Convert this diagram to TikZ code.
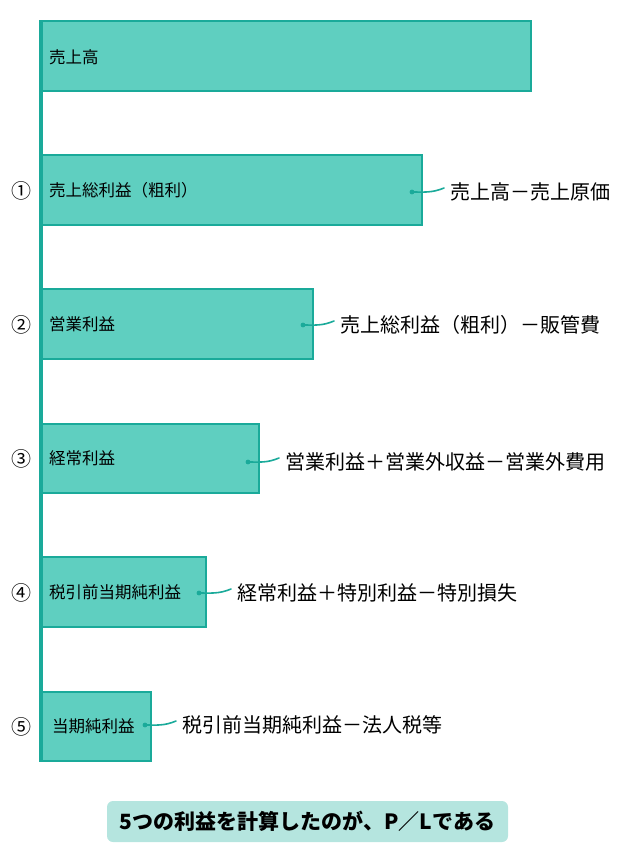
\documentclass[tikz,border=0pt]{standalone}
\usepackage{fontspec}
\setmainfont{Noto Sans CJK JP}
\usetikzlibrary{calc}
\definecolor{barfill}{HTML}{5FCFC0}
\definecolor{barline}{HTML}{1AAA9A}
\definecolor{notefill}{HTML}{B5E5DF}
\tikzset{
  bar/.style={draw=barline, line width=2pt, fill=barfill},
  barlabel/.style={anchor=west, inner sep=0pt, font=\fontsize{16.5}{19}\selectfont},
  numlabel/.style={inner sep=0pt, font=\fontsize{20}{22}\selectfont},
  formula/.style={anchor=west, inner xsep=6pt, inner ysep=0pt, font=\fontsize{20}{24}\selectfont},
  conn/.style={draw=barline, line width=1.6pt, line cap=round},
  dotmark/.style={fill=barline},
  note/.style={fill=notefill, rounded corners=6pt, minimum width=401pt, minimum height=41pt, inner sep=0pt, font=\fontsize{21}{24}\selectfont\bfseries}
}
\begin{document}
\begin{tikzpicture}[x=1pt,y=-1pt]
\useasboundingbox (0,0) rectangle (620,868);
% bars
\draw[bar] (41,21) rectangle (531,91);
\draw[bar] (41,155) rectangle (422,225);
\draw[bar] (41,289) rectangle (313,359);
\draw[bar] (41,424) rectangle (259,493);
\draw[bar] (41,557) rectangle (206,627);
\draw[bar] (41,692) rectangle (151,761);
% vertical axis
\coordinate (axtop) at (41,20);
\coordinate (axbot) at (41,762);
\draw[barline, line width=4pt] (axtop) -- (axbot);
% bar labels
\node[barlabel] (l0) at (49,57) {売上高};
\node[barlabel] (l1) at (49,190) {売上総利益（粗利）};
\node[barlabel] (l2) at (49,324) {営業利益};
\node[barlabel] (l3) at (49,458) {経常利益};
\node[barlabel] (l4) at (49,592) {税引前当期純利益};
\node[barlabel] (l5) at (52,726) {当期純利益};
% numbers
\node[numlabel] (n1) at (22,191) {①};
\node[numlabel] (n2) at (22,325) {②};
\node[numlabel] (n3) at (22,459) {③};
\node[numlabel] (n4) at (22,593) {④};
\node[numlabel] (n5) at (22,727) {⑤};
% formulas
\node[formula] (f1) at (444,192) {売上高－売上原価};
\node[formula] (f2) at (334,325) {売上総利益（粗利）－販管費};
\node[formula] (f3) at (279,462) {営業利益＋営業外収益－営業外費用};
\node[formula] (f4) at (231,593) {経常利益＋特別利益－特別損失};
\node[formula] (f5) at (176,725) {税引前当期純利益－法人税等};
% connector dots
\coordinate (d1) at (412,192);
\coordinate (d2) at (303,325);
\coordinate (d3) at (248,462);
\coordinate (d4) at (199,593);
\coordinate (d5) at (145,725);
\foreach \i in {1,...,5}{
  \fill[dotmark] (d\i) circle (2.4);
  \draw[conn] (d\i) .. controls ($(d\i)+(12,0)$) and ($(f\i.west)+(-12,1)$) .. ($(f\i.west)+(0,-4)$);
}
% note
\node[note] (note) at (307.5,821.5) {5つの利益を計算したのが、P／Lである};
\end{tikzpicture}
\end{document}
